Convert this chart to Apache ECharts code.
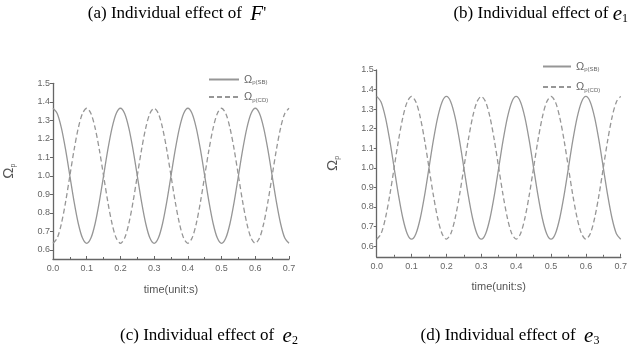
<!DOCTYPE html>
<html><head><meta charset="utf-8">
<script src="https://cdn.jsdelivr.net/npm/echarts@6/dist/echarts.min.js"></script>
<style>html,body{margin:0;padding:0;background:#fff}#c{width:630px;height:357px}</style>
</head><body><div id="c"></div>
<script>
// time samples (s)
const time = [0,0.0125,0.025,0.0375,0.05,0.0625,0.075,0.0875,0.1,0.1125,0.125,0.1375,0.15,0.1625,0.175,0.1875,
0.2,0.2125,0.225,0.2375,0.25,0.2625,0.275,0.2875,0.3,0.3125,0.325,0.3375,0.35,0.3625,0.375,0.3875,
0.4,0.4125,0.425,0.4375,0.45,0.4625,0.475,0.4875,0.5,0.5125,0.525,0.5375,0.55,0.5625,0.575,0.5875,
0.6,0.6125,0.625,0.6375,0.65,0.6625,0.675,0.6875,0.7];
// panel (a)/(c): Omega_p(SB) solid, Omega_p(CD) dashed
const sbLeft = [1.365,1.337,1.258,1.140,1.000,0.860,0.742,0.663,0.635,0.663,0.742,0.860,1.000,1.140,1.258,1.337,
1.365,1.337,1.258,1.140,1.000,0.860,0.742,0.663,0.635,0.663,0.742,0.860,1.000,1.140,1.258,1.337,
1.365,1.337,1.258,1.140,1.000,0.860,0.742,0.663,0.635,0.663,0.742,0.860,1.000,1.140,1.258,1.337,
1.365,1.337,1.258,1.140,1.000,0.860,0.742,0.663,0.635];
const cdLeft = [0.635,0.663,0.742,0.860,1.000,1.140,1.258,1.337,1.365,1.337,1.258,1.140,1.000,0.860,0.742,0.663,
0.635,0.663,0.742,0.860,1.000,1.140,1.258,1.337,1.365,1.337,1.258,1.140,1.000,0.860,0.742,0.663,
0.635,0.663,0.742,0.860,1.000,1.140,1.258,1.337,1.365,1.337,1.258,1.140,1.000,0.860,0.742,0.663,
0.635,0.663,0.742,0.860,1.000,1.140,1.258,1.337,1.365];
// panel (b)/(d)
const sbRight = [1.365,1.337,1.258,1.140,1.000,0.860,0.742,0.663,0.635,0.663,0.742,0.860,1.000,1.140,1.258,1.337,
1.365,1.337,1.258,1.140,1.000,0.860,0.742,0.663,0.635,0.663,0.742,0.860,1.000,1.140,1.258,1.337,
1.365,1.337,1.258,1.140,1.000,0.860,0.742,0.663,0.635,0.663,0.742,0.860,1.000,1.140,1.258,1.337,
1.365,1.337,1.258,1.140,1.000,0.860,0.742,0.663,0.635];
const cdRight = [0.635,0.663,0.742,0.860,1.000,1.140,1.258,1.337,1.365,1.337,1.258,1.140,1.000,0.860,0.742,0.663,
0.635,0.663,0.742,0.860,1.000,1.140,1.258,1.337,1.365,1.337,1.258,1.140,1.000,0.860,0.742,0.663,
0.635,0.663,0.742,0.860,1.000,1.140,1.258,1.337,1.365,1.337,1.258,1.140,1.000,0.860,0.742,0.663,
0.635,0.663,0.742,0.860,1.000,1.140,1.258,1.337,1.365];
const yTicks = [0.6,0.7,0.8,0.9,1.0,1.1,1.2,1.3,1.4,1.5];
const xTickLabels = ['0.0','0.1','0.2','0.3','0.4','0.5','0.6','0.7'];

const pair = (vals) => time.map((t, i) => [t, vals[i]]);
const curveColor = '#969696';
const axisColor = '#666';
const labelColor = '#666';
const sans = 'Liberation Sans';
const serif = 'Liberation Serif';

function xAxis(gi) {
  return {
    type: 'value', gridIndex: gi, min: 0, max: 0.7, interval: 0.1,
    name: 'time(unit:s)', nameLocation: 'middle', nameGap: 25,
    nameTextStyle: {fontFamily: sans, fontSize: 11, color: '#555'},
    axisLine: {lineStyle: {color: axisColor, width: 1.3}},
    axisTick: {show: true, inside: true, length: 3, lineStyle: {color: axisColor}},
    minorTick: {show: true, splitNumber: 2, length: 2, lineStyle: {color: axisColor}},
    splitLine: {show: false}, minorSplitLine: {show: false},
    axisLabel: {fontFamily: sans, fontSize: 9, color: labelColor, margin: 5,
      formatter: v => xTickLabels[Math.round(v * 10)]}
  };
}
function yAxis(gi, min) {
  return {
    type: 'value', gridIndex: gi, min: min, max: 1.5,
    name: '{o|Ω}{s|p}', nameLocation: 'middle', nameGap: 36, nameRotate: 90,
    nameTextStyle: {rich: {o: {fontFamily: sans, fontSize: 15, color: '#555'},
                           s: {fontFamily: sans, fontSize: 7, color: '#555', verticalAlign: 'bottom', padding: [9,0,0,0]}}},
    axisLine: {show: true, lineStyle: {color: axisColor, width: 1.3}},
    axisTick: {show: true, length: 3, customValues: yTicks, lineStyle: {color: axisColor}},
    splitLine: {show: false},
    axisLabel: {fontFamily: sans, fontSize: 9, color: labelColor, margin: 3,
      customValues: yTicks, formatter: v => v.toFixed(1)}
  };
}
function series(name, vals, gi, dashed) {
  return {
    name: name, type: 'line', xAxisIndex: gi, yAxisIndex: gi, data: pair(vals),
    smooth: 0.3, symbol: 'none', silent: true,
    lineStyle: {color: curveColor, width: 1.3, type: dashed ? [5, 3] : 'solid'},
    itemStyle: {color: curveColor}
  };
}
const legendFmt = n => n.startsWith('SB') ? '{o|Ω}{s|p(SB)}' : '{o|Ω}{s|p(CD)}';
const legendRich = {o: {fontFamily: sans, fontSize: 11, color: '#666'},
                    s: {fontFamily: sans, fontSize: 6, color: '#666', verticalAlign: 'bottom', padding: [6,0,0,0]}};

const capRich = {
  t: {fontFamily: serif, fontSize: 17, color: '#111'},
  i: {fontFamily: serif, fontSize: 21, fontStyle: 'italic', color: '#111'},
  s: {fontFamily: serif, fontSize: 12, color: '#111', padding: [10,0,0,0]}
};
function caption(text, x, y, align) {
  return {type: 'text', x: x, y: y, silent: true,
    style: {text: text, rich: capRich, align: align || 'center', verticalAlign: 'middle'}};
}

const option = {
  backgroundColor: '#fff',
  animation: false,
  grid: [
    {left: 53, top: 83.3, right: 341, bottom: 98},
    {left: 376.7, top: 70, right: 1.3, bottom: 100.2}
  ],
  xAxis: [xAxis(0), xAxis(1)],
  yAxis: [yAxis(0, 0.55), yAxis(1, 0.545)],
  legend: [
    {orient: 'vertical', left: 203, top: 69, itemWidth: 30, itemHeight: 12, itemGap: 6,
     itemStyle: {opacity: 0},
     data: ['SB-a', 'CD-a'], formatter: legendFmt, textStyle: {rich: legendRich}, selectedMode: false},
    {orient: 'vertical', left: 537, top: 56, itemWidth: 28, itemHeight: 12, itemGap: 9,
     itemStyle: {opacity: 0},
     data: ['SB-b', 'CD-b'], formatter: legendFmt, textStyle: {rich: legendRich}, selectedMode: false}
  ],
  series: [
    series('SB-a', sbLeft, 0, false), series('CD-a', cdLeft, 0, true),
    series('SB-b', sbRight, 1, false), series('CD-b', cdRight, 1, true)
  ],
  graphic: [
    caption("{t|(a) Individual effect of  }{i|F}{t|'}", 177, 14),
    caption("{t|(b) Individual effect of }{i|e}{s|1}", 628, 14, 'right'),
    caption("{t|(c) Individual effect of  }{i|e}{s|2}", 209, 336),
    caption("{t|(d) Individual effect of  }{i|e}{s|3}", 510, 336)
  ]
};
const chart = echarts.init(document.getElementById('c'), null, {renderer: 'canvas'});
chart.setOption(option);
</script>
</body></html>
